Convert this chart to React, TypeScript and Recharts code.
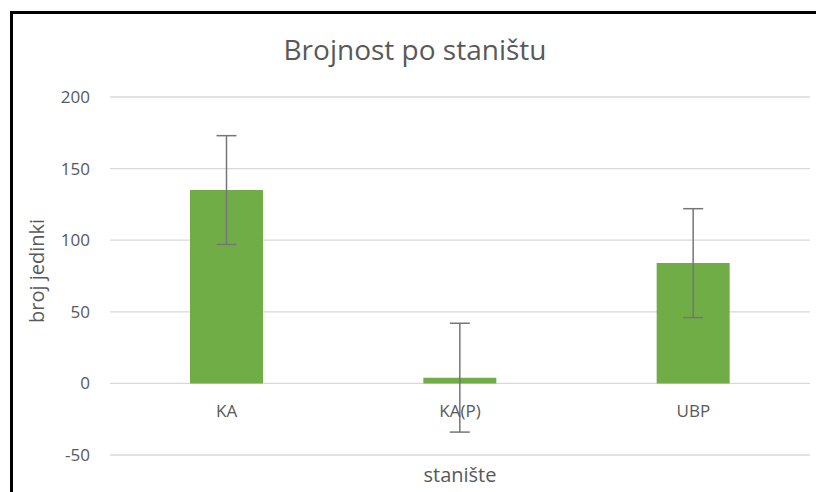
import React from 'react';
import { BarChart, Bar, XAxis, YAxis, CartesianGrid, ErrorBar } from 'recharts';

const categories = ['KA', 'KA(P)', 'UBP'];
const counts = [135, 4, 84];
const errors = [38, 38, 38];
const yTicks = [-50, 0, 50, 100, 150, 200];

const data = categories.map((c, i) => ({ name: c, value: counts[i], err: errors[i] }));

const FONT = '"Open Sans", "Noto Sans", sans-serif';
const TEXT = '#595959';

const XTick = (p: any) => (
  <text x={p.x} y={p.y - 38} textAnchor="middle" fill={TEXT} fontSize={17} fontFamily={FONT}>
    {p.payload.value}
  </text>
);

const YLabel = () => (
  <text
    x={44}
    y={271}
    transform="rotate(-90 44 271)"
    textAnchor="middle"
    fill={TEXT}
    fontSize={20}
    fontFamily={FONT}
  >
    broj jedinki
  </text>
);

export default function App() {
  return (
    <div style={{ position: 'absolute', left: 0, top: 0, width: 816, height: 492, background: '#fff', overflow: 'hidden' }}>
      <div
        style={{
          position: 'absolute',
          left: 10,
          top: 11,
          width: 806,
          height: 481,
          boxSizing: 'border-box',
          borderLeft: '3px solid #000',
          borderTop: '3px solid #000',
        }}
      />
      <div style={{ position: 'absolute', left: 0, top: 0 }}>
        <BarChart width={816} height={492} data={data} margin={{ top: 97, right: 6, bottom: 0, left: 0 }}>
          <text x={415} y={60} textAnchor="middle" fill={TEXT} fontSize={28} fontFamily={FONT}>
            Brojnost po staništu
          </text>
          <CartesianGrid vertical={false} stroke="#d9d9d9" strokeWidth={1.3} />
          <XAxis
            dataKey="name"
            height={37}
            axisLine={false}
            tickLine={false}
            tickSize={0}
            tickMargin={0}
            tick={<XTick />}
            label={{ value: 'stanište', position: 'insideBottom', offset: 10, fill: TEXT, fontSize: 20, fontFamily: FONT }}
          />
          <YAxis
            width={110}
            domain={[-50, 200]}
            ticks={yTicks}
            axisLine={false}
            tickLine={false}
            tickSize={0}
            tickMargin={20}
            tick={{ fill: TEXT, fontSize: 17, fontFamily: FONT }}
            label={{ content: <YLabel /> }}
          />
          <Bar dataKey="value" fill="#70ad47" barSize={73} isAnimationActive={false}>
            <ErrorBar dataKey="err" width={10} stroke="#767676" strokeWidth={1.5} direction="y" isAnimationActive={false} />
          </Bar>
        </BarChart>
      </div>
    </div>
  );
}
